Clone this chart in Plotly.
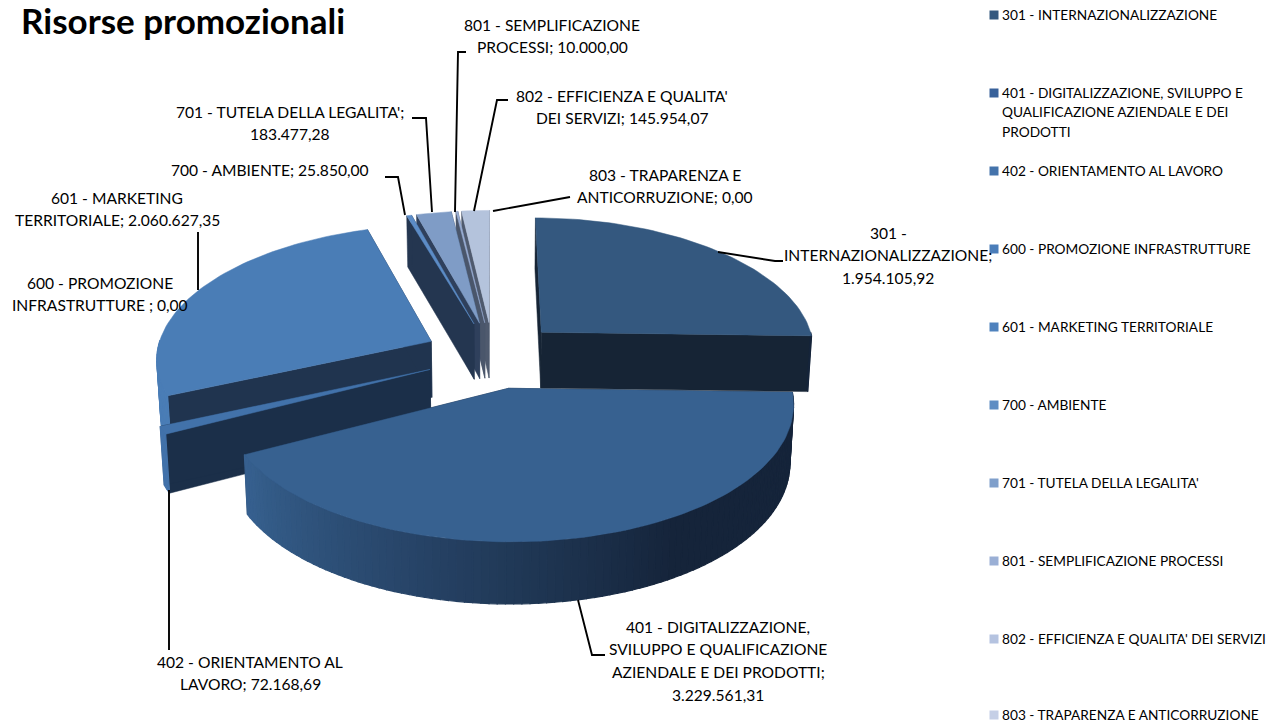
import math
import plotly.graph_objects as go

TITLE = "Risorse promozionali"
CATEGORIES = ["301 - INTERNAZIONALIZZAZIONE",
              "401 - DIGITALIZZAZIONE, SVILUPPO E QUALIFICAZIONE AZIENDALE E DEI PRODOTTI",
              "402 - ORIENTAMENTO AL LAVORO", "600 - PROMOZIONE INFRASTRUTTURE",
              "601 - MARKETING TERRITORIALE", "700 - AMBIENTE", "701 - TUTELA DELLA LEGALITA'",
              "801 - SEMPLIFICAZIONE PROCESSI", "802 - EFFICIENZA E QUALITA' DEI SERVIZI",
              "803 - TRAPARENZA E ANTICORRUZIONE"]
VALUES = [1954105.92, 3229561.31, 72168.69, 0.00, 2060627.35, 25850.00, 183477.28, 10000.00, 145954.07, 0.00]
TOP_COLORS = ["#34587f", "#376190", "#4272aa", "#4779b3", "#4a7db6", "#5c8cc6", "#7f9cc6", "#98add3", "#b4c3dc", "#c5cfe6"]
CUT_COLORS = ["#162435", "#16263a", "#1b2f49", "#1b2f49", "#20344f", "#243650", "#2f405c", "#4a566b", "#4f5a6e", "#555f72"]
LEGEND_COLORS = ["#34587f", "#38619a", "#4473ab", "#4a7db9", "#4f82bd", "#5f8dc3", "#7f9fcb", "#9aafd5", "#b5c3e0", "#c5cfe6"]
DRAW_ORDER = [4, 2, 1, 0, 8, 7, 6, 5]

DATA_LABELS = [
    (["301 -", "INTERNAZIONALIZZAZIONE;", "1.954.105,92"], 888, 232.5),
    (["401 - DIGITALIZZAZIONE,", "SVILUPPO E QUALIFICAZIONE", "AZIENDALE E DEI PRODOTTI;", "3.229.561,31"], 718, 626.5),
    (["402 - ORIENTAMENTO AL", "LAVORO; 72.168,69"], 250, 661.5),
    (["600 - PROMOZIONE", "INFRASTRUTTURE ; 0,00"], 100, 282.5),
    (["601 - MARKETING", "TERRITORIALE; 2.060.627,35"], 117, 197.5),
    (["700 - AMBIENTE; 25.850,00"], 270, 169.5),
    (["701 - TUTELA DELLA LEGALITA';", "183.477,28"], 290, 111.5),
    (["801 - SEMPLIFICAZIONE", "PROCESSI; 10.000,00"], 552, 24.5),
    (["802 - EFFICIENZA E QUALITA'", "DEI SERVIZI; 145.954,07"], 622, 95.5),
    (["803 - TRAPARENZA E", "ANTICORRUZIONE; 0,00"], 665, 174.5),
]
LEADERS = [
    ([718, 775, 783], [252, 261, 261]),
    ([578, 592, 605], [600, 655, 655]),
    ([169, 169], [490, 650]),
    ([198, 198], [290, 232]),
    ([405, 398, 385], [215, 177, 177]),
    ([432, 426, 412], [212, 118, 118]),
    ([455, 458, 466], [212, 52, 52]),
    ([474, 497, 508], [211, 100, 100]),
    ([493, 570], [211, 197]),
]
LEGEND_ROWS = [
    ["301 - INTERNAZIONALIZZAZIONE"],
    ["401 - DIGITALIZZAZIONE, SVILUPPO E", "QUALIFICAZIONE AZIENDALE E DEI", "PRODOTTI"],
    ["402 - ORIENTAMENTO AL LAVORO"], ["600 - PROMOZIONE INFRASTRUTTURE"],
    ["601 - MARKETING TERRITORIALE"], ["700 - AMBIENTE"], ["701 - TUTELA DELLA LEGALITA'"],
    ["801 - SEMPLIFICAZIONE PROCESSI"], ["802 - EFFICIENZA E QUALITA' DEI SERVIZI"],
    ["803 - TRAPARENZA E ANTICORRUZIONE"],
]

# oblique view of the pie: fitted to the reference
CX, CY, AX, BY, QX, PY, DEPTH, EXPLODE = 493, 355, 275, 133, 0.118, 0.104, 56.5, 0.25
FONT = "Lato"


def proj(gx, gy, z=0.0):
    x = CX + AX * gx * (1 + QX * gy) * (1 - 0.012 * z)
    y = CY + BY * gy * (1 + PY * gy) + DEPTH * z * (1 + 0.08 * gy)
    return x, y


def rim_point(mid, th, z=0.0):
    gx = EXPLODE * math.sin(mid) + math.sin(th)
    gy = -EXPLODE * math.cos(mid) - math.cos(th)
    return proj(gx, gy, z)


def hex2rgb(c):
    return [int(c[i:i + 2], 16) for i in (1, 3, 5)]


def mix(c1, c2, t):
    a, b = hex2rgb(c1), hex2rgb(c2)
    return "rgb(%d,%d,%d)" % tuple(round(a[i] + (b[i] - a[i]) * t) for i in range(3))


fig = go.Figure()


def poly(points, color, width=0.5):
    xs = [p[0] for p in points] + [points[0][0]]
    ys = [p[1] for p in points] + [points[0][1]]
    fig.add_trace(go.Scatter(x=xs, y=ys, mode="lines", fill="toself", fillcolor=color,
                             line=dict(color=color, width=width), hoverinfo="skip", showlegend=False))


total = sum(VALUES)
starts, ends, acc = [], [], 0.0
for v in VALUES:
    starts.append(acc / total * 2 * math.pi)
    acc += v
    ends.append(acc / total * 2 * math.pi)

for i in DRAW_ORDER:
    a, b = starts[i], ends[i]
    mid = (a + b) / 2
    top, cut = TOP_COLORS[i], CUT_COLORS[i]
    apex = proj(EXPLODE * math.sin(mid), -EXPLODE * math.cos(mid))
    apex_low = proj(EXPLODE * math.sin(mid), -EXPLODE * math.cos(mid), 1)
    for th in (a, b):
        poly([apex, rim_point(mid, th), rim_point(mid, th, 1), apex_low], cut)
    # outer wall, shaded in steps around the front of the pie
    n = max(2, int(math.degrees(b - a) / 1.5))
    for k in range(n):
        t0 = a + (b - a) * k / n
        t1 = a + (b - a) * (k + 1) / n
        tm = (t0 + t1) / 2
        if not (math.pi / 2 < tm < 1.5 * math.pi):
            continue
        deg = math.degrees(tm)
        f = min(1, max(0, (deg - 148) / (243 - 148)))
        poly([rim_point(mid, t0), rim_point(mid, t1), rim_point(mid, t1, 1), rim_point(mid, t0, 1)],
             mix("#15243a", top, f), width=1.2)
    # top face
    m = max(2, int(math.degrees(b - a) / 1.5))
    poly([apex] + [rim_point(mid, a + (b - a) * k / m) for k in range(m + 1)], top)

for xs, ys in LEADERS:
    fig.add_trace(go.Scatter(x=xs, y=ys, mode="lines", line=dict(color="#000000", width=1.9),
                             hoverinfo="skip", showlegend=False))

# legend
rows_y = [15, 93, 171, 249, 327, 405, 483, 561, 639, 715]
fig.add_trace(go.Scatter(x=[994] * len(rows_y), y=rows_y, mode="markers",
                         marker=dict(symbol="square", size=9, color=LEGEND_COLORS),
                         hoverinfo="skip", showlegend=False))

annotations = [dict(x=19, y=20, xref="x", yref="y", xanchor="left", yanchor="middle", showarrow=False,
                    text="<b>%s</b>" % TITLE, font=dict(family=FONT, size=35, color="#000000"))]
for lines, cx, y0 in DATA_LABELS:
    for j, line in enumerate(lines):
        annotations.append(dict(x=cx, y=y0 + 22.7 * j, xref="x", yref="y", xanchor="center", yanchor="middle",
                                showarrow=False, text=line, font=dict(family=FONT, size=15.6, color="#000000")))
for lines, y0 in zip(LEGEND_ROWS, rows_y):
    for j, line in enumerate(lines):
        annotations.append(dict(x=1000, y=y0 - 0.8 + 19.5 * j, xref="x", yref="y", xanchor="left", yanchor="middle",
                                showarrow=False, text=line, font=dict(family=FONT, size=13.7, color="#000000")))

fig.update_layout(width=1268, height=724, margin=dict(l=0, r=0, t=0, b=0), paper_bgcolor="#ffffff",
                  plot_bgcolor="#ffffff", annotations=annotations,
                  xaxis=dict(range=[0, 1268], visible=False, fixedrange=True),
                  yaxis=dict(range=[724, 0], visible=False, fixedrange=True))
fig.write_html("out.html", config={"displayModeBar": False},
               post_script="document.body.style.margin='0';document.body.style.overflow='hidden';")
